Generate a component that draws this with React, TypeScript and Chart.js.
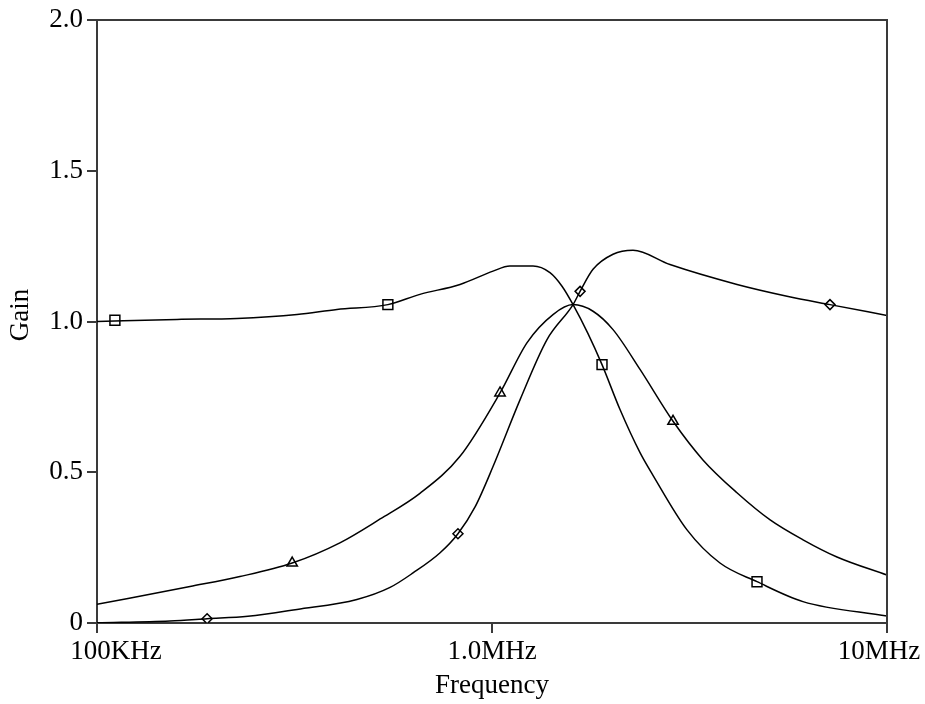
import React, { useEffect, useRef } from 'react';
import { Chart, registerables } from 'chart.js';

Chart.register(...registerables);

const xTickValues = [1e5, 1e6, 1e7];
const xTickLabels = ['100KHz', '1.0MHz', '10MHz'];
const yTickValues = [0, 0.5, 1.0, 1.5, 2.0];
const yTickLabels = ['0', '0.5', '1.0', '1.5', '2.0'];

// Square-marked curve
const squareFreq = [1e5, 1.594e5, 2.26e5, 3.21e5, 4.05e5, 5.45e5, 6.57e5, 8.3e5, 1.006e6, 1.11e6, 1.27e6, 1.402e6, 1.504e6, 1.604e6, 1.75e6, 1.899e6, 2.109e6, 2.37e6, 2.556e6, 3.117e6, 3.777e6, 4.687e6, 6.127e6, 1e7];
const squareGain = [1.0, 1.007, 1.01, 1.023, 1.04, 1.056, 1.09, 1.123, 1.167, 1.184, 1.184, 1.162, 1.117, 1.056, 0.96, 0.857, 0.708, 0.565, 0.49, 0.309, 0.199, 0.137, 0.071, 0.023];
const squareMarkFreq = [1.11e5, 5.45e5, 1.899e6, 4.687e6];
const squareMarkGain = [1.004, 1.056, 0.857, 0.137];

// Triangle-marked curve
const triFreq = [1e5, 1.72e5, 2.3e5, 3.12e5, 4.12e5, 5.21e5, 6.57e5, 8.3e5, 1.048e6, 1.227e6, 1.427e6, 1.604e6, 1.802e6, 2.025e6, 2.37e6, 2.873e6, 3.42e6, 4.17e6, 5.06e6, 6.13e6, 7.47e6, 1e7];
const triGain = [0.062, 0.121, 0.154, 0.199, 0.266, 0.345, 0.43, 0.553, 0.763, 0.93, 1.023, 1.056, 1.034, 0.973, 0.841, 0.669, 0.541, 0.432, 0.342, 0.276, 0.219, 0.159];
const triMarkFreq = [3.12e5, 1.048e6, 2.873e6];
const triMarkGain = [0.199, 0.763, 0.669];

// Diamond-marked curve
const diaFreq = [1e5, 1.53e5, 1.9e5, 2.41e5, 3.21e5, 4.55e5, 5.52e5, 6.31e5, 7.39e5, 8.2e5, 9.06e5, 1.006e6, 1.178e6, 1.378e6, 1.604e6, 1.671e6, 1.802e6, 2.025e6, 2.275e6, 2.822e6, 4.172e6, 5.583e6, 7.172e6, 1e7];
const diaGain = [0.001, 0.007, 0.014, 0.022, 0.045, 0.078, 0.118, 0.166, 0.233, 0.296, 0.385, 0.519, 0.741, 0.94, 1.056, 1.1, 1.173, 1.223, 1.236, 1.189, 1.123, 1.084, 1.056, 1.02];
const diaMarkFreq = [1.9e5, 8.2e5, 1.671e6, 7.172e6];
const diaMarkGain = [0.014, 0.296, 1.1, 1.056];

const xTitle = 'Frequency';
const yTitle = 'Gain';

const FONT = '"Liberation Serif", "Times New Roman", serif';
const FONT_SIZE = 27;
const AXIS_COLOR = '#3a3a3a';
// horizontal nudges of the x tick labels (first and last are pulled inward in the reference)
const xLabelShift = [19, 0, -8];

function pts(xs: number[], ys: number[]) {
  return xs.map((x, i) => ({ x, y: ys[i] }));
}

function lineDs(xs: number[], ys: number[]) {
  return {
    data: pts(xs, ys),
    borderColor: '#000',
    borderWidth: 1.5,
    pointRadius: 0,
    cubicInterpolationMode: 'monotone' as const,
    fill: false,
  };
}

function markDs(xs: number[], ys: number[], style: string, radius: number) {
  return {
    data: pts(xs, ys),
    showLine: false,
    pointStyle: style,
    pointRadius: radius,
    pointBorderColor: '#000',
    pointBorderWidth: 1.5,
    pointBackgroundColor: '#fff',
    borderColor: '#000',
    backgroundColor: '#fff',
  };
}

const framePlugin = {
  id: 'frame',
  afterDatasetsDraw(chart: any) {
    const { ctx, chartArea } = chart;
    const xScale = chart.scales.x;
    ctx.save();
    ctx.strokeStyle = AXIS_COLOR;
    ctx.lineWidth = 2;
    ctx.beginPath();
    ctx.moveTo(chartArea.left, chartArea.top);
    ctx.lineTo(chartArea.right, chartArea.top);
    ctx.lineTo(chartArea.right, chartArea.bottom);
    ctx.stroke();

    ctx.fillStyle = '#000';
    ctx.font = `${FONT_SIZE}px ${FONT}`;
    ctx.textAlign = 'center';
    ctx.textBaseline = 'middle';
    // x tick labels
    xTickValues.forEach((v, i) => {
      const px = xScale.getPixelForValue(v) + xLabelShift[i];
      ctx.fillText(xTickLabels[i], px, chartArea.bottom + 29);
    });
    // y-axis title
    ctx.translate(21, 315);
    ctx.rotate(-Math.PI / 2);
    ctx.fillText(yTitle, 0, 0);
    ctx.restore();
  },
};

export default function App() {
  const ref = useRef<HTMLCanvasElement | null>(null);

  useEffect(() => {
    if (!ref.current) return;
    const chart = new Chart(ref.current, {
      type: 'line',
      data: {
        datasets: [
          lineDs(squareFreq, squareGain),
          lineDs(triFreq, triGain),
          lineDs(diaFreq, diaGain),
          markDs(squareMarkFreq, squareMarkGain, 'rect', 7),
          markDs(triMarkFreq, triMarkGain, 'triangle', 6),
          markDs(diaMarkFreq, diaMarkGain, 'rectRot', 5),
        ] as any,
      },
      options: {
        animation: false,
        responsive: false,
        maintainAspectRatio: false,
        layout: { padding: { left: 0, right: 38, top: 20, bottom: 0 } },
        plugins: {
          legend: { display: false },
          tooltip: { enabled: false },
        },
        scales: {
          x: {
            type: 'logarithmic',
            min: 1e5,
            max: 1e7,
            afterBuildTicks: (s: any) => {
              s.ticks = xTickValues.map((v) => ({ value: v }));
            },
            afterFit: (s: any) => {
              s.height = 81;
              s.paddingRight = 0;
              s.paddingLeft = 0;
            },
            ticks: {
              display: false,
              autoSkip: false,
              maxRotation: 0,
            },
            grid: {
              display: true,
              drawOnChartArea: false,
              drawTicks: true,
              tickLength: 10,
              color: AXIS_COLOR,
              lineWidth: 2,
            },
            border: { display: true, color: AXIS_COLOR, width: 2 },
            title: {
              display: true,
              text: xTitle,
              color: '#000',
              font: { family: FONT, size: FONT_SIZE },
              padding: { top: 0, bottom: 2 },
            },
          },
          y: {
            type: 'linear',
            min: 0,
            max: 2,
            afterBuildTicks: (s: any) => {
              s.ticks = yTickValues.map((v) => ({ value: v }));
            },
            afterFit: (s: any) => {
              s.width = 97;
              s.paddingTop = 0;
              s.paddingBottom = 0;
            },
            ticks: {
              color: '#000',
              padding: 4,
              font: { family: FONT, size: FONT_SIZE },
              callback: (_v: any, i: number) => yTickLabels[i],
            },
            grid: {
              display: true,
              drawOnChartArea: false,
              drawTicks: true,
              tickLength: 10,
              color: AXIS_COLOR,
              lineWidth: 2,
            },
            border: { display: true, color: AXIS_COLOR, width: 2 },
            title: { display: false },
          },
        },
      },
      plugins: [framePlugin],
    });
    return () => chart.destroy();
  }, []);

  return (
    <div style={{ position: 'fixed', left: 0, top: 0, width: 925, height: 704, background: '#fff' }}>
      <canvas ref={ref} width={925} height={704} style={{ display: 'block' }} />
    </div>
  );
}
